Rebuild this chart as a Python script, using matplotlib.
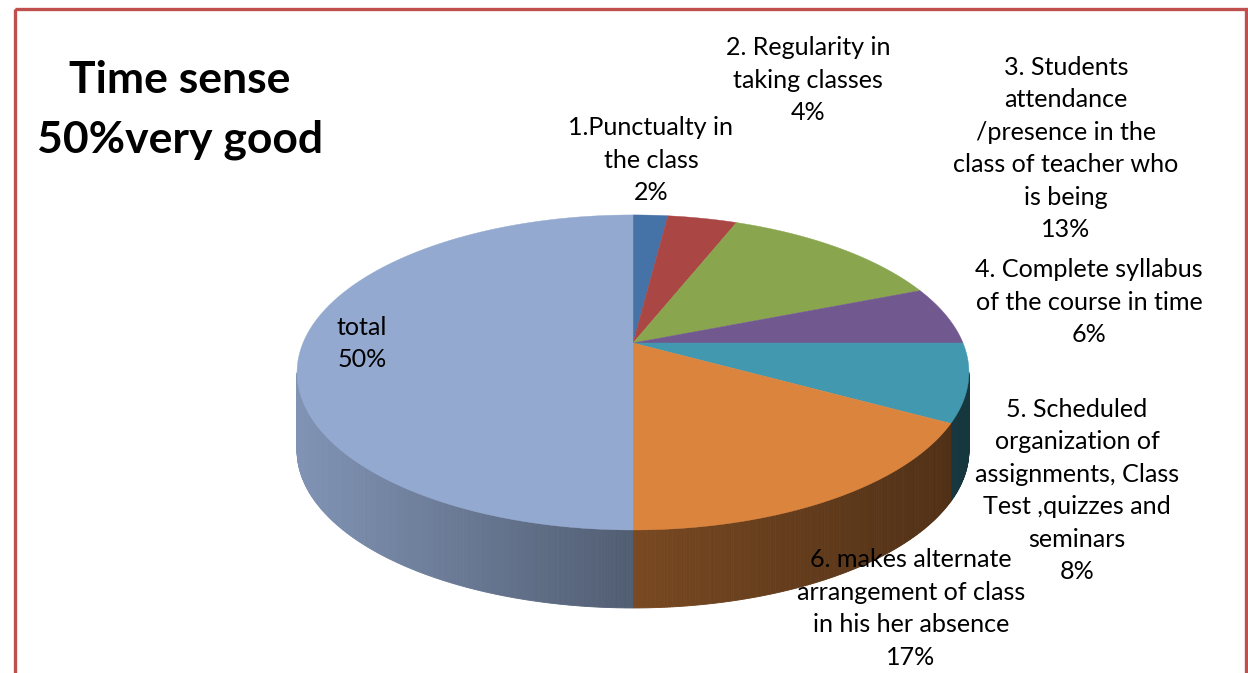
import numpy as np
import matplotlib
matplotlib.use("Agg")
import matplotlib.pyplot as plt
from matplotlib.patches import Polygon, Rectangle

# ---- data ----
categories = [
    "1.Punctualty in the class",
    "2. Regularity in taking classes",
    "3. Students attendance /presence in the class of teacher who is being",
    "4. Complete syllabus of the course in time",
    "5. Scheduled organization of assignments, Class Test ,quizzes and seminars",
    "6. makes alternate arrangement of class in his her absence",
    "total",
]
values = [2, 4, 13, 6, 8, 17, 50]
label_lines = [
    "1.Punctualty in\nthe class",
    "2. Regularity in\ntaking classes",
    "3. Students\nattendance\n/presence in the\nclass of teacher who\nis being",
    "4. Complete syllabus\nof the course in time",
    "5. Scheduled\norganization of\nassignments, Class\nTest ,quizzes and\nseminars",
    "6. makes alternate\narrangement of class\nin his her absence",
    "total",
]
title_text = "Time sense\n50%very good"

# ---- style / layout ----
colors = ["#4572A7", "#AA4643", "#89A54E", "#71588F", "#4198AF", "#DB843D", "#93A9CF"]
label_pos = [(651, 160), (808, 80), (1066, 148.5), (1089, 302),
             (1077, 490.5), (911, 608.5), (362, 343.5)]
FONT = "Lato"

CX, CY = 633.0, 343.0
A, B, K = 330.0, 152.0, 0.187
DEPTH = 78.0

W, H = 1248, 673
fig = plt.figure(figsize=(W / 100, H / 100), dpi=100)
ax = fig.add_axes([0, 0, 1, 1])
ax.set_xlim(0, W)
ax.set_ylim(H, 0)
ax.axis("off")


def proj(theta_deg, depth=0.0):
    t = np.radians(theta_deg)
    x = np.sin(t)
    y = np.cos(t)
    w = 1 + K * y
    return CX + A * x / w, CY - B * y / w + depth


def shade(xpix):
    return np.interp(xpix, [300, 633, 960], [0.87, 0.55, 0.36])


total = float(sum(values))
bounds = np.concatenate([[0], np.cumsum(values)]) / total * 360.0

vis_a = np.degrees(np.arccos(-K))
vis_b = 360.0 - vis_a

# sides
for i, col in enumerate(colors):
    t0, t1 = bounds[i], bounds[i + 1]
    s0, s1 = max(t0, vis_a), min(t1, vis_b)
    if s1 <= s0:
        continue
    base = np.array(matplotlib.colors.to_rgb(col))
    n = max(2, int((s1 - s0) / 0.4))
    ts = np.linspace(s0, s1, n + 1)
    for j in range(n):
        xa, ya = proj(ts[j])
        xb, yb = proj(ts[j + 1])
        c = np.clip(base * shade((xa + xb) / 2), 0, 1)
        poly = Polygon([(xa, ya), (xb, yb), (xb, yb + DEPTH), (xa, ya + DEPTH)],
                       closed=True, facecolor=c, edgecolor=c, linewidth=0.6)
        ax.add_patch(poly)

# top faces
for i, col in enumerate(colors):
    t0, t1 = bounds[i], bounds[i + 1]
    ts = np.linspace(t0, t1, max(3, int((t1 - t0) / 0.5)))
    pts = [(CX, CY)] + [proj(t) for t in ts]
    ax.add_patch(Polygon(pts, closed=True, facecolor=col, edgecolor=col, linewidth=0.3))

# labels
for lab, v, (x, y) in zip(label_lines, values, label_pos):
    ax.text(x, y, f"{lab}\n{v}%", ha="center", va="center", fontsize=18.1,
            family=FONT, color="black", linespacing=1.50)

ax.text(180, 110, title_text, ha="center", va="center", fontsize=32,
        family=FONT, fontweight="bold", color="black", linespacing=1.565)

# border
ax.add_patch(Rectangle((15, 8.5), 1231, 700, facecolor="none",
                       edgecolor="#C0504D", linewidth=2.4, clip_on=False))

fig.savefig("out.png", dpi=100)
